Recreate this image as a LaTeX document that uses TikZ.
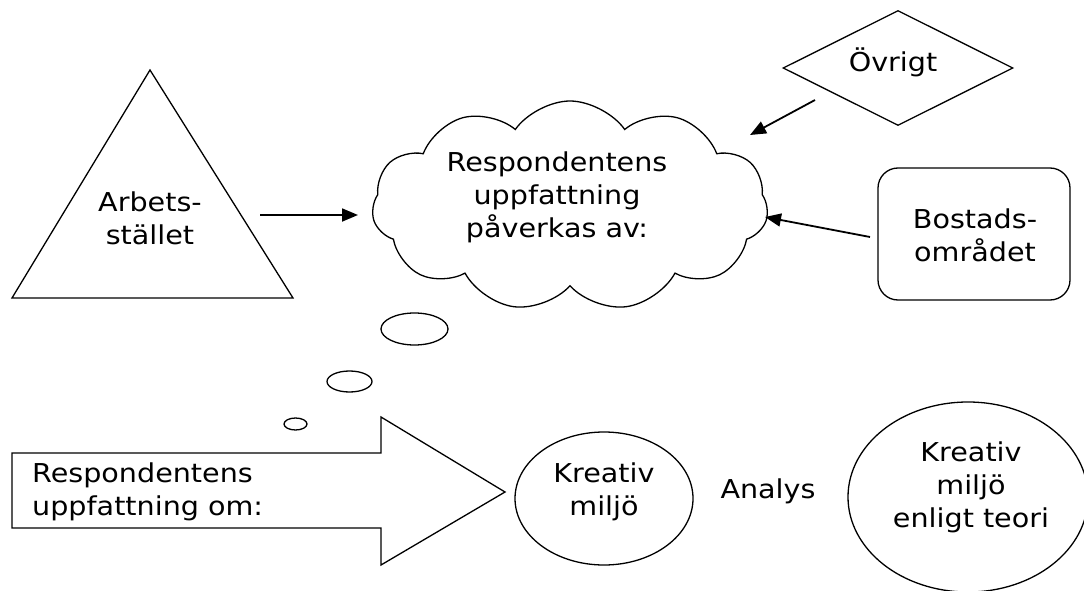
\documentclass[tikz,border=0pt]{standalone}
\usepackage{fontspec}
\setmainfont{DejaVu Sans}[FakeStretch=1.1]
\usetikzlibrary{shapes.geometric,shapes.symbols,arrows.meta}
\begin{document}
\begin{tikzpicture}[x=1pt,y=-1pt,
  every node/.style={font=\fontsize{26}{33}\selectfont},
  shapeline/.style={draw=black,line width=1.3pt},
  conn/.style={line width=1.8pt,-{Triangle[length=16pt,width=13pt]}},
  txt/.style={align=center,inner sep=0pt},
  bubble/.style={shapeline,ellipse,inner sep=0pt}]
\clip (0,0) rectangle (1084,591);
\fill[white] (0,0) rectangle (1084,591);
% triangle
\coordinate (ta) at (150,70);
\coordinate (tl) at (12,298);
\coordinate (tr) at (293,298);
\draw[shapeline,line join=miter] (ta) -- (tr) -- (tl) -- cycle;
\node[txt] (arb) at (150,218) {Arbets-\\stället};
% cloud
\node[shapeline,cloud,cloud puffs=11,cloud puff arc=110,aspect=2.1,minimum width=396pt,minimum height=210pt,inner sep=0pt] (cloud) at (570,206) {};
\node[txt] (cloudtxt) at (557,197) {Respondentens\\uppfattning\\påverkas av:};
% thought bubbles
\node[bubble,minimum width=67pt,minimum height=32pt] (b1) at (414.5,329) {};
\node[bubble,minimum width=45pt,minimum height=21pt] (b2) at (349.5,381.5) {};
\node[bubble,minimum width=23pt,minimum height=12pt] (b3) at (295.5,424) {};
% diamond
\node[shapeline,diamond,aspect=2,minimum width=230pt,minimum height=115pt,inner sep=0pt] (ovr) at (898,68) {};
\node[txt] (ovrtxt) at (893,62) {Övrigt};
% rounded rectangle
\node[shapeline,rectangle,rounded corners=20pt,minimum width=192pt,minimum height=132pt,inner sep=0pt] (bost) at (974,234) {};
\node[txt] (bosttxt) at (975,235) {Bostads-\\området};
% connectors
\coordinate (a1s) at (260,215);
\coordinate (a1e) at (358,215);
\draw[conn] (a1s) -- (a1e);
\coordinate (a2s) at (815,100);
\coordinate (a2e) at (750,135);
\draw[conn] (a2s) -- (a2e);
\coordinate (a3s) at (870,237);
\coordinate (a3e) at (765,217);
\draw[conn] (a3s) -- (a3e);
% big block arrow
\coordinate (p1) at (12,453);
\coordinate (p2) at (381,453);
\coordinate (p3) at (381,417);
\coordinate (p4) at (505,492);
\coordinate (p5) at (381,565);
\coordinate (p6) at (381,528);
\coordinate (p7) at (12,528);
\draw[shapeline,line join=miter] (p1) -- (p2) -- (p3) -- (p4) -- (p5) -- (p6) -- (p7) -- cycle;
\node[txt,align=left,anchor=west] (resp) at (32,492) {Respondentens\\uppfattning om:};
% ellipses
\node[shapeline,ellipse,minimum width=178pt,minimum height=133pt,inner sep=0pt] (km) at (604,498.5) {};
\node[txt] (kmtxt) at (604,492) {Kreativ\\miljö};
\node[txt] (analys) at (768,491) {Analys};
\node[shapeline,ellipse,minimum width=240pt,minimum height=190pt,inner sep=0pt] (kt) at (968,497) {};
\node[txt] (kttxt) at (971,487) {Kreativ\\miljö\\enligt teori};
\end{tikzpicture}
\end{document}
